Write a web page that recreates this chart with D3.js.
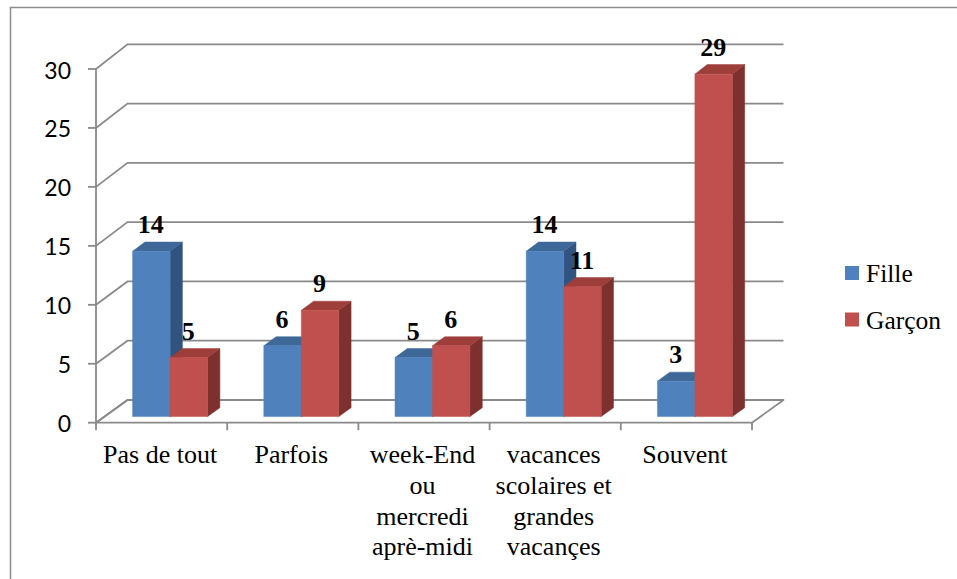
<!DOCTYPE html>
<html>
<head>
<meta charset="utf-8">
<script src="https://cdn.jsdelivr.net/npm/d3@7"></script>
<style>
  html, body { margin: 0; padding: 0; background: #fff; }
  svg { display: block; }
</style>
</head>
<body>
<svg id="chart" width="957" height="579"></svg>
<script>
// ---- data ----
const categories = ["Pas de tout", "Parfois", "week-End ou mercredi aprè-midi", "vacances scolaires et grandes vacançes", "Souvent"];
const categoryLines = [["Pas de tout"], ["Parfois"], ["week-End", "ou", "mercredi", "aprè-midi"], ["vacances", "scolaires et", "grandes", "vacançes"], ["Souvent"]];
const seriesNames = ["Fille", "Garçon"];
const filleValues = [14, 6, 5, 14, 3];
const garconValues = [5, 9, 6, 11, 29];
const yTicks = [0, 5, 10, 15, 20, 25, 30];

const colors = {
  "Fille":  { front: "#4f81bd", top: "#3d6898", side: "#30537f" },
  "Garçon": { front: "#c0504d", top: "#9e3e3b", side: "#7d302e" }
};
const SERIF = "Liberation Serif";
const SANS = "Lato";

const svg = d3.select("#chart");

// border of chart area
svg.append("rect")
  .attr("x", 10.5).attr("y", 7.5).attr("width", 1200).attr("height", 1200)
  .attr("fill", "none").attr("stroke", "#8c8c8c").attr("stroke-width", 1.5);

// ---- scales ----
const xBand = d3.scaleBand().domain(categories).range([96, 752]).padding(0);
const xSub = d3.scaleBand().domain(seriesNames).range([0, xBand.bandwidth()])
  .paddingInner(0).paddingOuter(0.75);
const yFront = d3.scaleLinear().domain([0, 30]).range([422.7, 69]);
const yBack = d3.scaleLinear().domain([0, 30]).range([400, 44.3]);
const depthDX = 31.5;
const f0 = 0.27, f1 = 0.66; // bar depth fractions

function P(x, v, f) {
  return [x + f * depthDX, yFront(v) + f * (yBack(v) - yFront(v))];
}

const gridColor = "#8a8a8a";
const x0 = xBand.range()[0], x1 = xBand.range()[1];

// floor
const floorPts = [P(x0, 0, 0), P(x1, 0, 0), P(x1, 0, 1), P(x0, 0, 1)];
svg.append("polygon")
  .attr("points", floorPts.map(p => p.join(",")).join(" "))
  .attr("fill", "none").attr("stroke", gridColor).attr("stroke-width", 1.8)
  .attr("stroke-linejoin", "round");

// gridlines: left wall diagonal + back wall horizontal
const grid = svg.append("g");
yTicks.forEach(t => {
  const a = P(x0, t, 0), b = P(x0, t, 1), c = P(x1, t, 1);
  grid.append("polyline")
    .attr("points", [a, b, c].map(p => p.join(",")).join(" "))
    .attr("fill", "none").attr("stroke", gridColor).attr("stroke-width", 1.8);
});

// y axis line + ticks + labels
svg.append("line")
  .attr("x1", x0).attr("x2", x0).attr("y1", yFront(0)).attr("y2", yFront(30))
  .attr("stroke", gridColor).attr("stroke-width", 1.8);
yTicks.forEach(t => {
  svg.append("line")
    .attr("x1", x0 - 8).attr("x2", x0).attr("y1", yFront(t)).attr("y2", yFront(t))
    .attr("stroke", gridColor).attr("stroke-width", 1.8);
  svg.append("text")
    .style("font-family", SANS)
    .style("font-size", "23px")
    .attr("x", 71).attr("y", yFront(t) + 9.5)
    .attr("text-anchor", "end")
    .attr("fill", "#000")
    .text(t);
});

// x axis ticks
const xTickPos = categories.map(c => xBand(c)).concat([x1]);
xTickPos.forEach(x => {
  svg.append("line")
    .attr("x1", x).attr("x2", x).attr("y1", yFront(0)).attr("y2", yFront(0) + 7.5)
    .attr("stroke", gridColor).attr("stroke-width", 1.8);
});

// category labels
categories.forEach((c, i) => {
  const cx = xBand(c) + xBand.bandwidth() / 2 - 1.5;
  const t = svg.append("text")
    .style("font-family", SERIF)
    .style("font-size", "26px")
    .attr("text-anchor", "middle")
    .attr("fill", "#000");
  categoryLines[i].forEach((ln, j) => {
    t.append("tspan").attr("x", cx).attr("y", 463.3 + j * 30.6).text(ln);
  });
});

// bars
const bars = [];
categories.forEach((c, i) => {
  seriesNames.forEach((s, k) => {
    const v = s === "Fille" ? filleValues[i] : garconValues[i];
    bars.push({ c, s, v, xl: xBand(c) + xSub(s), xr: xBand(c) + xSub(s) + xSub.bandwidth() });
  });
});
const barG = svg.append("g");
bars.forEach(b => {
  const col = colors[b.s];
  const fl0 = P(b.xl, 0, f0), fr0 = P(b.xr, 0, f0), frv = P(b.xr, b.v, f0), flv = P(b.xl, b.v, f0);
  const blv = P(b.xl, b.v, f1), brv = P(b.xr, b.v, f1), br0 = P(b.xr, 0, f1);
  const poly = (pts, fill) => barG.append("polygon")
    .attr("points", pts.map(p => p.join(",")).join(" "))
    .attr("fill", fill).attr("stroke", fill).attr("stroke-width", 0.5).attr("stroke-linejoin", "round");
  poly([fr0, frv, brv, br0], col.side);
  poly([flv, frv, brv, blv], col.top);
  poly([fl0, fr0, frv, flv], col.front);
});

// data labels
bars.forEach(b => {
  const p = P((b.xl + b.xr) / 2, b.v, f0);
  svg.append("text")
    .style("font-family", SERIF)
    .style("font-size", "26px")
    .style("font-weight", "bold")
    .attr("x", p[0] - 0.5).attr("y", p[1] - 18)
    .attr("text-anchor", "middle")
    .attr("fill", "#000")
    .text(b.v);
});

// legend
const legend = svg.append("g");
seriesNames.forEach((s, k) => {
  const yTop = 266 + k * 46.5;
  legend.append("rect")
    .attr("x", 845).attr("y", yTop).attr("width", 14).attr("height", 14)
    .attr("fill", colors[s].front);
  legend.append("text")
    .style("font-family", SERIF)
    .style("font-size", "25.5px")
    .attr("x", 866).attr("y", yTop + 16)
    .attr("fill", "#000")
    .text(s);
});
</script>
</body>
</html>
